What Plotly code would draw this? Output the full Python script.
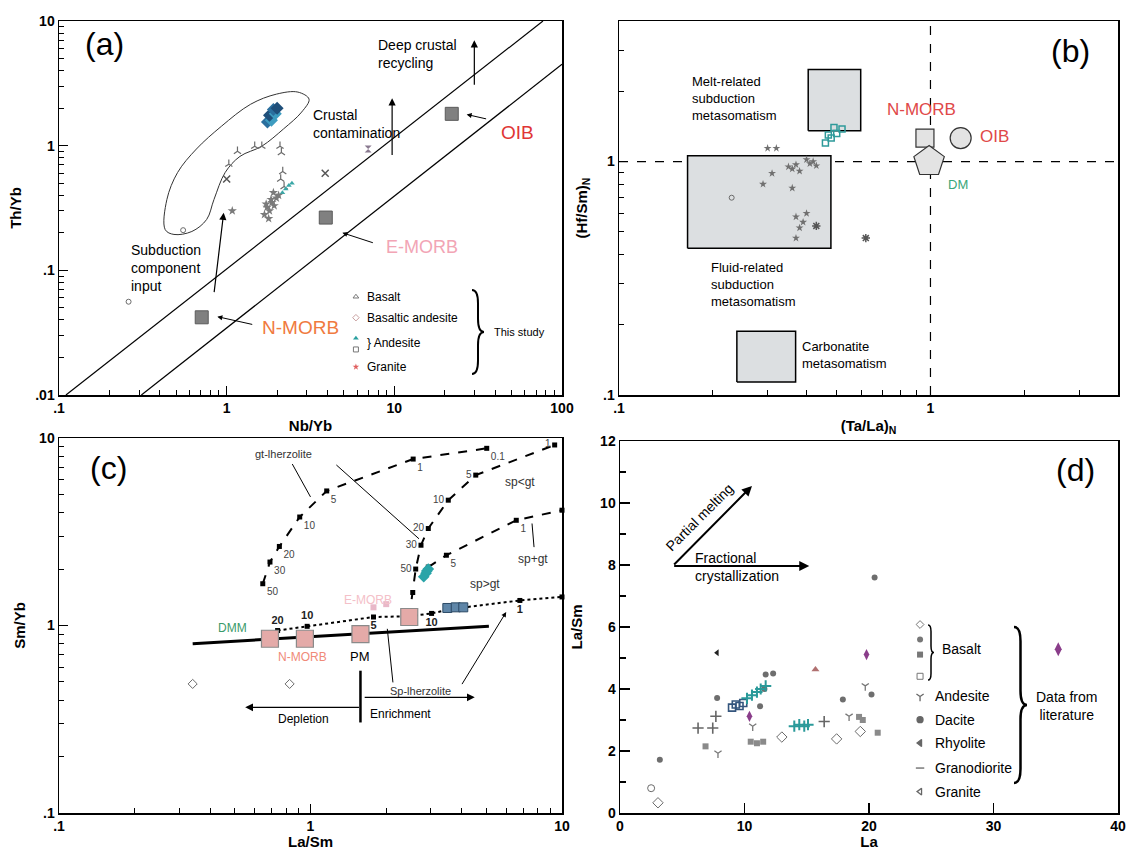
import math
import plotly.graph_objects as go

W, H = 1132, 850
FONT = "Arial, Liberation Sans, sans-serif"

# ================= Panel (a): Nb/Yb vs Th/Yb =================
a_ref_names = ["OIB", "E-MORB", "N-MORB"]
a_ref_nbyb = [22.0, 3.9, 0.71]
a_ref_thyb = [1.8, 0.265, 0.042]

a_upper_nbyb = [0.11, 77.0]
a_upper_thyb = [0.01, 10.0]
a_lower_nbyb = [0.31, 100.0]
a_lower_thyb = [0.01, 4.5]

a_env_nbyb = [0.43, 0.44, 0.51, 0.66, 0.93, 1.39, 1.98, 2.66, 3.1, 2.8, 2.18, 1.62, 1.2, 0.98, 0.84, 0.76, 0.62, 0.485, 0.43]
a_env_thyb = [0.212, 0.37, 0.61, 0.94, 1.43, 2.15, 2.59, 2.69, 2.36, 1.86, 1.36, 0.99, 0.82, 0.61, 0.37, 0.256, 0.205, 0.194, 0.212]

a_basalt_nbyb = [0.55, 0.26]
a_basalt_thyb = [0.21, 0.056]
a_basand_nbyb = [2.08, 2.12, 2.16, 2.10, 2.2, 1.16, 1.03, 1.47, 1.62]
a_basand_thyb = [0.99, 0.88, 0.62, 0.54, 0.47, 0.9, 0.71, 0.99, 0.99]
a_blue_nbyb = [1.75, 1.85, 1.80, 1.95, 1.90, 2.00]
a_blue_thyb = [1.55, 1.60, 1.75, 1.80, 1.95, 2.00]
a_teal_nbyb = [2.15, 2.25, 2.35, 2.45]
a_teal_thyb = [0.42, 0.45, 0.48, 0.5]
a_granite_nbyb = [1.08, 1.68, 1.74, 1.8, 1.86, 1.92, 1.98, 2.04, 1.78, 1.9, 1.72, 1.84]
a_granite_thyb = [0.30, 0.28, 0.32, 0.30, 0.35, 0.33, 0.38, 0.40, 0.26, 0.42, 0.34, 0.37]
a_x_nbyb = [3.87, 1.0]
a_x_thyb = [0.6, 0.54]
a_purple_nbyb = [6.98]
a_purple_thyb = [0.94]

a_leg_labels = ["Basalt", "Basaltic andesite", "} Andesite", "Granite"]
a_leg_label_y = [0.0614, 0.0417, 0.0262, 0.0168]
a_leg_sym_y = [0.0614, 0.0417, 0.0285, 0.0232, 0.0168]
a_leg_sym_x = [5.9, 5.9, 5.9, 5.9, 5.9]
a_leg_symbols = ["triangle-up-open", "diamond-open", "triangle-up", "square-open", "star"]
a_leg_colors = ["#777777", "#c9a0a0", "#2aa0a0", "#777777", "#e06060"]

# ================= Panel (b): (Ta/La)N vs (Hf/Sm)N =================
b_ref_names = ["N-MORB", "OIB", "DM"]
b_ref_tala = [0.96, 1.25, 0.99]
b_ref_hfsm = [1.26, 1.26, 1.0]

b_box_names = ["Melt-related", "Fluid-related", "Carbonatite"]
b_box_x0 = [0.405, 0.166, 0.239]
b_box_x1 = [0.597, 0.479, 0.369]
b_box_y0 = [1.355, 0.425, 0.1137]
b_box_y1 = [2.48, 1.06, 0.1876]

b_teal_tala = [0.46, 0.48, 0.50, 0.52, 0.49, 0.47]
b_teal_hfsm = [1.20, 1.26, 1.32, 1.38, 1.40, 1.30]
b_grey_tala = [0.30, 0.32, 0.40, 0.41, 0.42, 0.43, 0.35, 0.36, 0.38, 0.37, 0.31, 0.29, 0.36, 0.37, 0.38, 0.39, 0.40, 0.37]
b_grey_hfsm = [1.14, 1.14, 1.02, 0.98, 1.0, 0.96, 0.95, 0.93, 0.91, 0.97, 0.89, 0.80, 0.77, 0.58, 0.52, 0.55, 0.60, 0.47]
b_basalt_tala = [0.23]
b_basalt_hfsm = [0.70]
b_star_tala = [0.43, 0.62]
b_star_hfsm = [0.53, 0.47]

# ================= Panel (c): La/Sm vs Sm/Yb =================
c_gt_lasm = [0.646, 0.69, 0.752, 0.906, 1.16, 2.56, 5.02]
c_gt_smyb = [1.67, 2.18, 2.64, 3.79, 5.22, 7.72, 8.81]
c_gt_labels = ["50", "30", "20", "10", "5", "1", "0.1"]

c_spgt1_lasm = [2.47, 2.55, 2.62, 2.75, 2.94, 3.53, 4.54, 9.35]
c_spgt1_smyb = [1.11, 1.5, 2.0, 2.68, 3.29, 4.66, 6.34, 9.18]
c_spgt1_labels = ["", "", "50", "30", "20", "10", "5", "1"]

c_spgt2_lasm = [2.94, 3.47, 6.58, 10.0]
c_spgt2_smyb = [2.05, 2.37, 3.64, 4.12]
c_spgt2_labels = ["", "5", "1", ""]

c_sp_lasm = [0.74, 0.97, 1.78, 2.47, 3.03, 3.71, 6.8, 10.0]
c_sp_smyb = [0.94, 0.99, 1.11, 1.12, 1.16, 1.23, 1.36, 1.42]
c_sp_labels = ["20", "10", "5", "", "10", "", "1", ""]

c_array_lasm = [0.34, 5.12]
c_array_smyb = [0.80, 0.99]

c_ref_names = ["DMM", "N-MORB", "PM", "E-MORB"]
c_ref_lasm = [0.69, 0.95, 1.58, 2.47]
c_ref_smyb = [0.85, 0.85, 0.90, 1.11]

c_grey_lasm = [0.34, 0.826]
c_grey_smyb = [0.488, 0.488]
c_teal_lasm = [2.82, 2.88, 2.94, 2.90]
c_teal_smyb = [1.82, 1.90, 2.00, 1.95]
c_blue_lasm = [3.5, 3.78, 4.05]
c_blue_smyb = [1.24, 1.25, 1.25]
c_pink_lasm = [1.78, 2.0]
c_pink_smyb = [1.25, 1.3]

# ================= Panel (d): La vs La/Sm =================
d_dia_la = [3.05, 17.4, 19.3, 13.0]
d_dia_lasm = [0.33, 2.39, 2.63, 2.45]
d_circ_la = [2.5]
d_circ_lasm = [0.8]
d_dacite_la = [3.2, 7.8, 11.6, 11.7, 12.3, 17.9, 20.2, 20.45, 11.25]
d_dacite_lasm = [1.72, 3.71, 4.0, 4.47, 4.5, 3.66, 3.82, 7.6, 3.44]
d_rhy_la = [6.27, 7.45, 7.7, 16.4]
d_rhy_lasm = [2.74, 2.74, 3.12, 2.95]
d_grd_la = [6.87, 10.5, 11.0, 11.5, 19.2, 19.5, 20.7]
d_grd_lasm = [2.15, 2.3, 2.25, 2.3, 3.1, 3.0, 2.59]
d_and_la = [7.87, 10.66, 18.4, 19.7]
d_and_lasm = [1.93, 2.8, 3.12, 4.1]
d_black_la = [7.8]
d_black_lasm = [5.17]
d_blue_la = [9.0, 9.3, 9.6, 9.9]
d_blue_lasm = [3.4, 3.5, 3.45, 3.55]
d_teal_la = [10.2, 10.6, 11.0, 11.3, 11.7, 14.0, 14.4, 14.8, 15.1]
d_teal_lasm = [3.7, 3.8, 3.9, 4.0, 4.1, 2.8, 2.85, 2.8, 2.85]
d_purple_la = [19.8, 10.4]
d_purple_lasm = [5.11, 3.12]
d_tri_la = [15.7]
d_tri_lasm = [4.63]

d_leg_labels = ["Andesite", "Dacite", "Rhyolite", "Granodiorite", "Granite"]
d_leg_y = [3.76, 3.01, 2.26, 1.45, 0.69]
d_leg_basalt_y = [6.08, 5.6, 5.11, 4.41]
d_leg_x = 24.1
d_lit_x = [35.2]
d_lit_y = [5.28]

# ---------------------------------------------------------------
L = math.log10
AX = {1: ("x", "y", True, True), 2: ("x2", "y2", True, True),
      3: ("x3", "y3", True, True), 4: ("x4", "y4", False, False)}

fig = go.Figure()
annotations = []
shapes = []


def add(p, x, y, mode="markers", **kw):
    fig.add_trace(go.Scatter(x=x, y=y, xaxis=AX[p][0], yaxis=AX[p][1], mode=mode,
                             showlegend=False, hoverinfo="skip", cliponaxis=False, **kw))


def conv(p, x, y):
    _, _, lx, ly = AX[p]
    return (L(x) if lx else x), (L(y) if ly else y)


def text(p, x, y, s, size=13, color="black", xanchor="center", yanchor="middle",
         align="center", bold=False, angle=0):
    X, Y = conv(p, x, y)
    annotations.append(dict(xref=AX[p][0], yref=AX[p][1], x=X, y=Y, text=s, showarrow=False,
                            font=dict(size=size, color=color, family=FONT,
                                      weight="bold" if bold else "normal"),
                            xanchor=xanchor, yanchor=yanchor, align=align, textangle=angle))


def arrow(p, x0, y0, x1, y1, width=1.2, head=2, size=1.2, color="black"):
    X0, Y0 = conv(p, x0, y0)
    X1, Y1 = conv(p, x1, y1)
    annotations.append(dict(xref=AX[p][0], yref=AX[p][1], axref=AX[p][0], ayref=AX[p][1],
                            x=X1, y=Y1, ax=X0, ay=Y0, text="", showarrow=True,
                            arrowhead=head, arrowsize=size, arrowwidth=width, arrowcolor=color))


def brace(xp, y0, y1, w, lw=2):
    ym = (y0 + y1) / 2
    q = min(w * 1.1, (y1 - y0) / 5)
    xm = xp + w / 2
    P = lambda x, y: f"{x / W:.5f},{1 - y / H:.5f}"
    path = (f"M {P(xp, y0)} Q {P(xm, y0)} {P(xm, y0 + q)} L {P(xm, ym - q)} "
            f"Q {P(xm, ym)} {P(xp + w, ym)} Q {P(xm, ym)} {P(xm, ym + q)} "
            f"L {P(xm, y1 - q)} Q {P(xm, y1)} {P(xp, y1)}")
    shapes.append(dict(type="path", xref="paper", yref="paper", path=path,
                       line=dict(color="black", width=lw)))


GREY = "#6b6b6b"

# ---------------- Panel (a) traces ----------------
add(1, a_upper_nbyb, a_upper_thyb, "lines", line=dict(color="black", width=1.2))
add(1, a_lower_nbyb, a_lower_thyb, "lines", line=dict(color="black", width=1.2))
add(1, a_env_nbyb, a_env_thyb, "lines", line=dict(color="#333333", width=1, shape="spline", smoothing=1))
add(1, a_ref_nbyb, a_ref_thyb, marker=dict(symbol="square", size=13, color="#808080",
                                            line=dict(color="#5a5a5a", width=1)))
add(1, a_basalt_nbyb, a_basalt_thyb, marker=dict(symbol="circle-open", size=5, color=GREY))
add(1, a_basand_nbyb, a_basand_thyb, marker=dict(symbol="y-up-open", size=6, color=GREY, line=dict(width=1.2, color=GREY)))
add(1, a_blue_nbyb, a_blue_thyb, marker=dict(symbol="diamond", size=10,
                                              color=["#2b6f9e", "#3d9cc0", "#1f4f7a", "#3d9cc0", "#2b6f9e", "#1f4f7a"]))
add(1, a_teal_nbyb, a_teal_thyb, marker=dict(symbol="triangle-up", size=5, color="#3aa7a7"))
add(1, a_granite_nbyb, a_granite_thyb, marker=dict(symbol="star", size=7, color="#7a7a7a"))
add(1, a_x_nbyb, a_x_thyb, marker=dict(symbol="x-thin-open", size=7, color="#555555", line=dict(width=1.5, color="#555555")))
add(1, a_purple_nbyb, a_purple_thyb, marker=dict(symbol="hourglass", size=7, color="#8a7a90"))
add(1, a_leg_sym_x, a_leg_sym_y, marker=dict(symbol=a_leg_symbols, size=5, color=a_leg_colors))

text(1, 0.188, 6.5, "(a)", size=32)
text(1, 7.8, 5.4, "Deep crustal<br>recycling", size=14, xanchor="left", align="left")
arrow(1, 30, 3.0, 30, 7.0)
text(1, 3.18, 1.49, "Crustal<br>contamination", size=14, xanchor="left", align="left")
arrow(1, 9.7, 0.82, 9.7, 2.4)
text(1, 0.26, 0.105, "Subduction<br>component<br>input", size=14, xanchor="left", align="left")
arrow(1, 0.84, 0.065, 0.96, 0.29)
text(1, 54, 1.28, a_ref_names[0], size=19, color="#e03535")
arrow(1, 36, 1.63, 27, 1.78, width=1, size=1)
text(1, 14.7, 0.155, a_ref_names[1], size=18, color="#f2a5b5")
arrow(1, 7.6, 0.165, 4.9, 0.2, width=1, size=1)
text(1, 2.74, 0.0346, a_ref_names[2], size=19, color="#f07a40")
arrow(1, 1.45, 0.0366, 0.88, 0.0425, width=1, size=1)
for lab, yy in zip(a_leg_labels, a_leg_label_y):
    text(1, 6.7, yy, lab, size=12, xanchor="left")
text(1, 38, 0.032, "This study", size=11, xanchor="left")
brace(472, 290, 374, 12)

# ---------------- Panel (b) traces ----------------
add(2, [1, 1], [0.1, 4], "lines", line=dict(color="black", width=1.2, dash="dash"))
add(2, [0.1, 4], [1, 1], "lines", line=dict(color="black", width=1.2, dash="dash"))
for x0, x1, y0, y1 in zip(b_box_x0, b_box_x1, b_box_y0, b_box_y1):
    add(2, [x0, x1, x1, x0, x0], [y0, y0, y1, y1, y0], "lines", fill="toself",
        fillcolor="#dcdfe1", line=dict(color="black", width=1.5))
add(2, b_grey_tala, b_grey_hfsm, marker=dict(symbol="star", size=6, color="#707070"))
add(2, b_basalt_tala, b_basalt_hfsm, marker=dict(symbol="circle-open", size=5, color=GREY))
add(2, b_star_tala, b_star_hfsm, marker=dict(symbol="asterisk-open", size=7, color="#555555", line=dict(width=1.5, color="#555555")))
add(2, b_teal_tala, b_teal_hfsm, marker=dict(symbol="square-open", size=6, color="#2e9a9a", line=dict(width=1.5, color="#2e9a9a")))
add(2, [b_ref_tala[0]], [b_ref_hfsm[0]], marker=dict(symbol="square", size=18, color="#e3e3e3", line=dict(color="#333", width=1.2)))
add(2, [b_ref_tala[1]], [b_ref_hfsm[1]], marker=dict(symbol="circle", size=21, color="#e3e3e3", line=dict(color="#333", width=1.2)))
add(2, [b_ref_tala[2]], [b_ref_hfsm[2]], marker=dict(symbol="pentagon", size=32, color="#e3e3e3", line=dict(color="#333", width=1.2)))

text(2, 2.82, 2.97, "(b)", size=32)
text(2, 0.169, 1.87, "Melt-related<br>subduction<br>metasomatism", size=13, xanchor="left", align="left")
text(2, 0.195, 0.296, "Fluid-related<br>subduction<br>metasomatism", size=13, xanchor="left", align="left")
text(2, 0.382, 0.148, "Carbonatite<br>metasomatism", size=13, xanchor="left", align="left")
text(2, 0.935, 1.67, b_ref_names[0], size=17, color="#e04848")
text(2, 1.6, 1.28, b_ref_names[1], size=17, color="#e04848")
text(2, 1.23, 0.80, b_ref_names[2], size=13, color="#3aa67a")

# ---------------- Panel (c) traces ----------------
add(3, c_array_lasm, c_array_smyb, "lines", line=dict(color="black", width=3))
add(3, c_gt_lasm, c_gt_smyb, "lines+markers+text", line=dict(color="black", width=2, dash="dash"),
    marker=dict(symbol="square", size=5, color="black"), text=c_gt_labels,
    textposition="bottom right", textfont=dict(size=10, color="#444", family=FONT))
add(3, c_spgt1_lasm, c_spgt1_smyb, "lines+markers+text", line=dict(color="black", width=2, dash="dash"),
    marker=dict(symbol="square", size=5, color="black"), text=c_spgt1_labels,
    textposition="middle left", textfont=dict(size=10, color="#444", family=FONT))
add(3, c_spgt2_lasm, c_spgt2_smyb, "lines+markers+text", line=dict(color="black", width=2, dash="dash"),
    marker=dict(symbol="square", size=5, color="black"), text=c_spgt2_labels,
    textposition="bottom right", textfont=dict(size=10, color="#444", family=FONT))
add(3, c_sp_lasm, c_sp_smyb, "lines+markers+text", line=dict(color="black", width=2, dash="dot"),
    marker=dict(symbol="square", size=5, color="black"), text=c_sp_labels,
    textposition=["top center", "top center", "bottom center", "top center",
                  "bottom center", "top center", "bottom center", "top center"],
    textfont=dict(size=11, color="#222", family=FONT, weight="bold"))
add(3, c_ref_lasm, c_ref_smyb, marker=dict(symbol="square", size=17, color="#e4aaa8", line=dict(color="#8a8a8a", width=1.2)))
add(3, c_grey_lasm, c_grey_smyb, marker=dict(symbol="diamond-open", size=7, color=GREY))
add(3, c_pink_lasm, c_pink_smyb, marker=dict(symbol="square", size=6, color="#e8b8c8"))
add(3, c_blue_lasm, c_blue_smyb, marker=dict(symbol="square", size=9, color="#5f86a8", line=dict(color="#2c4a66", width=1)))
add(3, c_teal_lasm, c_teal_smyb, marker=dict(symbol="diamond", size=9, color="#2aa4a8"))

text(3, 0.158, 6.9, "(c)", size=32)
text(3, 0.49, 0.97, c_ref_names[0], size=12, color="#3a9a6a")
text(3, 0.93, 0.68, c_ref_names[1], size=12, color="#f08a78")
text(3, 1.58, 0.68, c_ref_names[2], size=13)
text(3, 1.7, 1.36, c_ref_names[3], size=12, color="#f4c0c8")
text(3, 0.78, 8.2, "gt-lherzolite", size=11, color="#333")
arrow(3, 0.84, 7.4, 1.0, 4.85, width=1, head=0)
arrow(3, 1.25, 7.3, 2.7, 2.9, width=1, head=0)
text(3, 6.8, 5.84, "sp&lt;gt", size=12, color="#333")
text(3, 7.7, 2.27, "sp+gt", size=12, color="#333")
arrow(3, 7.75, 2.57, 7.6, 3.5, width=1, head=0)
text(3, 4.94, 1.67, "sp&gt;gt", size=12, color="#333")
text(3, 2.75, 0.449, "Sp-lherzolite", size=11, color="#333")
arrow(3, 2.13, 0.488, 2.02, 0.96, width=1, head=0)
arrow(3, 3.97, 0.478, 6.0, 1.18, width=1, head=2, size=1)
add(3, [1.58, 1.58], [0.574, 0.304], "lines", line=dict(color="black", width=2.5))
arrow(3, 1.58, 0.366, 0.55, 0.366, width=1.3)
arrow(3, 1.62, 0.414, 4.5, 0.414, width=1.3)
text(3, 0.935, 0.317, "Depletion", size=12)
text(3, 2.28, 0.337, "Enrichment", size=12)

# ---------------- Panel (d) traces ----------------
add(4, d_dia_la, d_dia_lasm, marker=dict(symbol="diamond-open", size=8, color=GREY))
add(4, d_circ_la, d_circ_lasm, marker=dict(symbol="circle-open", size=7, color=GREY))
add(4, d_dacite_la, d_dacite_lasm, marker=dict(symbol="circle", size=6, color="#6e6e6e"))
add(4, d_rhy_la, d_rhy_lasm, marker=dict(symbol="cross-thin-open", size=8, color="#666", line=dict(width=1.6, color="#666")))
add(4, d_grd_la, d_grd_lasm, marker=dict(symbol="square", size=6, color="#8a8a8a"))
add(4, d_and_la, d_and_lasm, marker=dict(symbol="y-down-open", size=6, color="#777", line=dict(width=1.3, color="#777")))
add(4, d_black_la, d_black_lasm, marker=dict(symbol="triangle-left", size=6, color="#222"))
add(4, d_blue_la, d_blue_lasm, marker=dict(symbol="square-open", size=7, color="#34557d", line=dict(width=1.6, color="#34557d")))
add(4, d_teal_la, d_teal_lasm, marker=dict(symbol="cross-thin-open", size=8, color="#2a9a9a", line=dict(width=2, color="#2a9a9a")))
add(4, d_purple_la, d_purple_lasm, marker=dict(symbol="diamond-tall", size=8, color="#8a3d8a"))
add(4, d_tri_la, d_tri_lasm, marker=dict(symbol="triangle-up", size=7, color="#b07070"))
add(4, [d_leg_x] * 4, d_leg_basalt_y, marker=dict(symbol=["diamond-open", "circle", "square", "square-open"],
                                                  size=6, color="#777"))
add(4, [d_leg_x] * 5, d_leg_y, marker=dict(symbol=["y-down-open", "circle", "triangle-left", "line-ew-open", "triangle-left-open"],
                                           size=6, color="#666", line=dict(width=1.3, color="#666")))
add(4, d_lit_x, d_lit_y, marker=dict(symbol="diamond-tall", size=10, color="#8a3d8a"))

text(4, 36.6, 11.06, "(d)", size=32)
arrow(4, 4.23, 7.97, 10.6, 10.55, width=2, size=1)
arrow(4, 4.23, 7.97, 15.2, 7.97, width=2, size=1)
text(4, 6.4, 9.55, "Partial melting", size=14, angle=-45)
text(4, 5.9, 7.95, "Fractional<br>crystallization", size=14, xanchor="left", align="left")
for lab, yy in zip(d_leg_labels, d_leg_y):
    text(4, 25.1, yy, lab, size=14, xanchor="left")
text(4, 25.7, 5.28, "Basalt", size=14, xanchor="left")
text(4, 35.9, 3.44, "Data from<br>literature", size=14)
brace(928, 625, 680, 6, lw=1.5)
brace(1014, 627, 783, 13, lw=2.5)

# ---------------- Axes ----------------
tf = dict(family=FONT, size=14, color="black", weight="bold")
titf = dict(family=FONT, size=15, color="black", weight="bold")


def minors(lo_exp, hi_exp, upto=None):
    v = []
    for e in range(lo_exp, hi_exp):
        for m in range(2, 10):
            val = m * 10 ** e
            if upto is None or val <= upto:
                v.append(val)
    return v


def log_axis(dom, lo, hi, major, labels, minor_vals, title, standoff):
    return dict(type="log", domain=dom, range=[L(lo), L(hi)], tickmode="array", tickvals=major,
                ticktext=labels, ticks="inside", ticklen=9, tickwidth=1.2, tickcolor="black",
                minor=dict(ticks="inside", ticklen=5, tickwidth=1, tickcolor="black", tickvals=minor_vals),
                showline=True, linewidth=1.5, linecolor="black", mirror=True, showgrid=False,
                zeroline=False, tickfont=tf, automargin=False,
                title=dict(text=title, font=titf, standoff=standoff))


xa_dom = [59 / W, 562 / W]
xb_dom = [619 / W, 1118 / W]
ya_dom = [1 - 395 / H, 1 - 21 / H]
yc_dom = [1 - 813 / H, 1 - 438 / H]
yd_dom = [1 - 813 / H, 1 - 441 / H]

layout_axes = dict(
    xaxis=log_axis(xa_dom, 0.1, 100, [0.1, 1, 10, 100], [".1", "1", "10", "100"], minors(-1, 2), "Nb/Yb", 5),
    yaxis=log_axis(ya_dom, 0.01, 10, [0.01, 0.1, 1, 10], [".01", ".1", "1", "10"], minors(-2, 1), "Th/Yb", 10),
    xaxis2=log_axis(xb_dom, 0.1, 4, [0.1, 1], [".1", "1"], minors(-1, 1, 4), "(Ta/La)<sub>N</sub>", 5),
    yaxis2=log_axis([1 - 395 / H, 1 - 21 / H], 0.1, 4, [0.1, 1], [".1", "1"], minors(-1, 1, 4), "(Hf/Sm)<sub>N</sub>", 12),
    xaxis3=log_axis(xa_dom, 0.1, 10, [0.1, 1, 10], [".1", "1", "10"], minors(-1, 1), "La/Sm", 1),
    yaxis3=log_axis(yc_dom, 0.1, 10, [0.1, 1, 10], [".1", "1", "10"], minors(-1, 1), "Sm/Yb", 10),
    xaxis4=dict(domain=[620 / W, 1118 / W], range=[0, 40], tickmode="linear", tick0=0, dtick=10,
                ticks="inside", ticklen=10, tickwidth=1.2, tickcolor="black",
                showline=True, linewidth=1.5, linecolor="black", mirror=True, showgrid=False,
                zeroline=False, tickfont=tf, automargin=False,
                title=dict(text="La", font=titf, standoff=1)),
    yaxis4=dict(domain=yd_dom, range=[0, 12], tickmode="linear", tick0=0, dtick=2,
                ticks="inside", ticklen=10, tickwidth=1.2, tickcolor="black",
                minor=dict(ticks="inside", ticklen=6, dtick=1, tickcolor="black"),
                showline=True, linewidth=1.5, linecolor="black", mirror=True, showgrid=False,
                zeroline=False, tickfont=tf, automargin=False,
                title=dict(text="La/Sm", font=titf, standoff=14)),
)
for i, (xk, yk) in enumerate([("xaxis", "yaxis"), ("xaxis2", "yaxis2"), ("xaxis3", "yaxis3"), ("xaxis4", "yaxis4")]):
    layout_axes[xk]["anchor"] = AX[i + 1][1]
    layout_axes[yk]["anchor"] = AX[i + 1][0]

fig.update_layout(
    template="none",
    width=W, height=H,
    margin=dict(l=0, r=0, t=0, b=0),
    paper_bgcolor="white", plot_bgcolor="white",
    font=dict(family=FONT, color="black"),
    annotations=annotations, shapes=shapes,
    **layout_axes,
)

fig.write_html("out.html", config={"displayModeBar": False, "staticPlot": True},
               post_script="document.body.style.margin='0';document.body.style.overflow='hidden';")
